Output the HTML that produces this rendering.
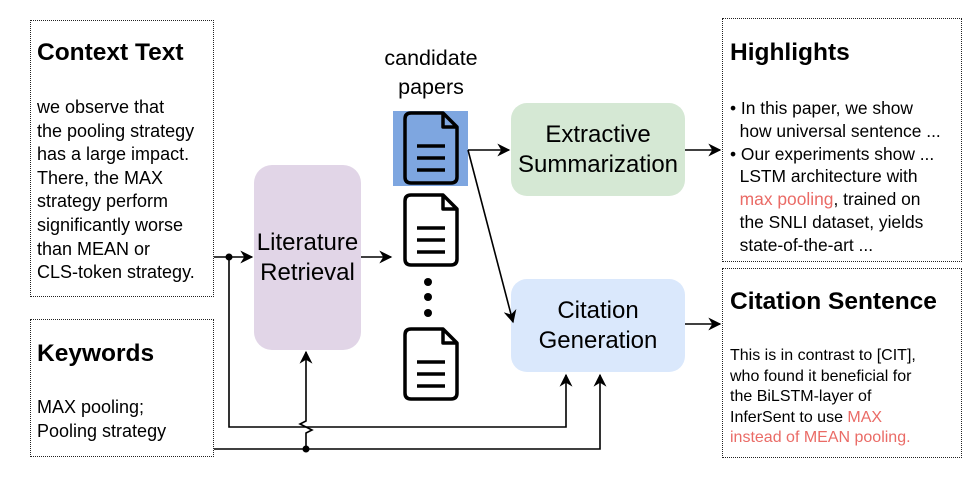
<!DOCTYPE html>
<html><head><meta charset="utf-8"><style>
body{margin:0;width:980px;height:484px;background:#fff;position:relative;overflow:hidden;font-family:"Liberation Sans",Arial,sans-serif;color:#000}
.a{position:absolute}
.box{position:absolute;border:1.5px dotted #222;box-sizing:border-box}
.t{position:absolute;font-weight:bold;font-size:24.5px;white-space:nowrap}
.p{position:absolute;font-size:18px;line-height:23.6px;white-space:nowrap}
.r{color:#ea6b66}
.node{position:absolute;display:flex;align-items:center;justify-content:center;text-align:center;font-size:24px;line-height:30px;border-radius:16px}
</style></head><body>
<div class="box" style="left:30px;top:20px;width:184px;height:277px"></div>
<div class="t" style="left:37px;top:39px">Context Text</div>
<div class="p" style="left:37px;top:96px">we observe that<br>the pooling strategy<br>has a large impact.<br>There, the MAX<br>strategy perform<br>significantly worse<br>than MEAN or<br>CLS-token strategy.</div>

<div class="box" style="left:30px;top:319px;width:184px;height:138px"></div>
<div class="t" style="left:37px;top:340px">Keywords</div>
<div class="p" style="left:37px;top:396px">MAX pooling;<br>Pooling strategy</div>

<div class="node" style="left:254px;top:165px;width:107px;height:185px;background:#e1d5e7;border-radius:18px">Literature<br>Retrieval</div>
<div class="a" style="left:370px;top:44px;width:122px;text-align:center;font-size:21.5px;line-height:29px">candidate<br>papers</div>
<div class="a" style="left:393px;top:111px;width:75px;height:75px;background:#7ea6e0"></div>

<div class="node" style="left:511px;top:103px;width:174px;height:93px;background:#d5e8d4">Extractive<br>Summarization</div>
<div class="node" style="left:511px;top:279px;width:174px;height:93px;background:#dae8fc">Citation<br>Generation</div>

<div class="box" style="left:722px;top:18px;width:240px;height:244px"></div>
<div class="t" style="left:730px;top:39px">Highlights</div>
<div class="p" style="left:730px;top:97px;font-size:17.4px;line-height:22.8px">• In this paper, we show<br>&nbsp;&nbsp;how universal sentence ...<br>• Our experiments show ...<br>&nbsp;&nbsp;LSTM architecture with<br>&nbsp;&nbsp;<span class="r">max pooling</span>, trained on<br>&nbsp;&nbsp;the SNLI dataset, yields<br>&nbsp;&nbsp;state-of-the-art ...</div>

<div class="box" style="left:722px;top:268px;width:240px;height:190px"></div>
<div class="t" style="left:730px;top:288px">Citation Sentence</div>
<div class="p" style="left:730px;top:346px;font-size:16px;line-height:20.5px">This is in contrast to [CIT],<br>who found it beneficial for<br>the BiLSTM-layer of<br>InferSent to use <span class="r">MAX</span><br><span class="r">instead of MEAN pooling.</span></div>

<svg class="a" style="left:0;top:0" width="980" height="484" viewBox="0 0 980 484">
<defs>
<marker id="M" viewBox="0 0 10 10" refX="9" refY="5" markerWidth="13" markerHeight="13" orient="auto" markerUnits="userSpaceOnUse"><path d="M0,0 L10,5 L0,10 L3,5z" fill="#000"/></marker>
<g id="doc"><path d="M6,0 H38 L52,14 V64 Q52,70 46,70 H6 Q0,70 0,64 V6 Q0,0 6,0 Z M38,0 V14 H52" fill="none" stroke="#000" stroke-width="3.5" stroke-linejoin="round"/><path d="M12,33 H40 M12,45 H40 M12,57 H40" stroke="#000" stroke-width="3.5"/></g></defs>
<g fill="none" stroke="#000" stroke-width="1.6">
<path d="M214,257 H252" marker-end="url(#M)"/>
<path d="M361,257 H391" marker-end="url(#M)"/>
<path d="M468,150 H509" marker-end="url(#M)"/>
<path d="M468,150 L513,322" marker-end="url(#M)"/>
<path d="M685,150 H720" marker-end="url(#M)"/>
<path d="M685,324 H720" marker-end="url(#M)"/>
<path d="M229,257 V427 H566 V375" marker-end="url(#M)"/>
<path d="M214,449 H600 V375" marker-end="url(#M)"/>
<path d="M306,449 V433 L312,430 L300,424 L306,421 V352" marker-end="url(#M)"/>
</g>
<circle cx="229" cy="257" r="3.5"/><circle cx="306" cy="449" r="3.5"/>
<use href="#doc" x="405" y="113"/>
<use href="#doc" x="405" y="195"/>
<use href="#doc" x="405" y="329"/>
<circle cx="428" cy="282" r="4"/><circle cx="428" cy="297" r="4"/><circle cx="428" cy="313" r="4"/>
</svg>
</body></html>
